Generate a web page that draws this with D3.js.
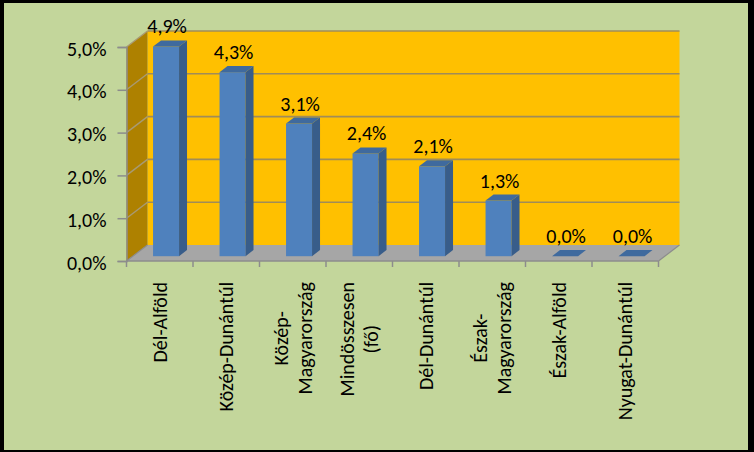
<!DOCTYPE html>
<html><head><meta charset="utf-8">
<script src="https://cdn.jsdelivr.net/npm/d3@7"></script>
<style>
html,body{margin:0;padding:0;background:#000;}
svg{display:block;}
text{font-family:Carlito,Calibri,Lato,sans-serif;fill:#000;}
</style></head>
<body>
<svg id="c" width="754" height="452"></svg>
<script>
const categories = [
  ["Dél-Alföld"],
  ["Közép-Dunántúl"],
  ["Közép-", "Magyarország"],
  ["Mindösszesen", "(fő)"],
  ["Dél-Dunántúl"],
  ["Észak-", "Magyarország"],
  ["Észak-Alföld"],
  ["Nyugat-Dunántúl"]
];
const values = [0.049, 0.043, 0.031, 0.024, 0.021, 0.013, 0.000, 0.000];
const yTicks = [0, 0.01, 0.02, 0.03, 0.04, 0.05];

const svg = d3.select("#c");
const loc = d3.formatLocale({decimal: ",", thousands: " ", grouping: [3], currency: ["", " Ft"]});
const fmt = loc.format(".1%");

// frame
svg.append("rect").attr("x",0).attr("y",0).attr("width",754).attr("height",452).attr("fill","#000");
svg.append("rect").attr("x",4).attr("y",3).attr("width",744).attr("height",447).attr("fill","#C3D69B");

const keys = categories.map(d => d.join(" "));
const x = d3.scaleBand().domain(keys).range([126.5, 658.5]).padding(0);
const y = d3.scaleLinear().domain([0, 0.05]).range([261, 47]);
const DX = 21, DY = -16;           // full depth of the 3D box
const f1 = 0.3, f2 = 0.68;          // bar front / back depth fractions
const barW = 26;
const FS = 20;

const x0 = x.range()[0], x1 = x.range()[1];
const pt = (px, py) => px + "," + py;

// back wall
svg.append("rect").attr("x", x0 + DX).attr("y", y(0.05) + DY)
  .attr("width", x1 - x0).attr("height", y(0) - y(0.05)).attr("fill", "#FFC000");
// left wall
svg.append("polygon").attr("points", [pt(x0, y(0.05)), pt(x0 + DX, y(0.05) + DY), pt(x0 + DX, y(0) + DY), pt(x0, y(0))].join(" "))
  .attr("fill", "#AE8100");
// floor
svg.append("polygon").attr("points", [pt(x0, y(0)), pt(x1, y(0)), pt(x1 + DX, y(0) + DY), pt(x0 + DX, y(0) + DY)].join(" "))
  .attr("fill", "#A6A6A6");

// gridlines
const grid = svg.append("g");
yTicks.forEach(v => {
  if (v > 0) {
    grid.append("line").attr("x1", x0 + DX).attr("x2", x1 + DX).attr("y1", y(v) + DY).attr("y2", y(v) + DY)
      .attr("stroke", "#A08C58").attr("stroke-width", 1.6);
    grid.append("line").attr("x1", x0).attr("x2", x0 + DX).attr("y1", y(v)).attr("y2", y(v) + DY)
      .attr("stroke", "#A89A74").attr("stroke-width", 1.4);
  }
});
// floor edges
svg.append("line").attr("x1", x1).attr("y1", y(0)).attr("x2", x1 + DX).attr("y2", y(0) + DY).attr("stroke", "#8C8C8C").attr("stroke-width", 1.2);
svg.append("line").attr("x1", x0).attr("y1", y(0)).attr("x2", x0 + DX).attr("y2", y(0) + DY).attr("stroke", "#8C8C8C").attr("stroke-width", 1.2);

// y axis
const yAxis = d3.axisLeft(y).tickValues(yTicks).tickFormat(fmt).tickSize(9).tickPadding(11);
const ga = svg.append("g").attr("transform", `translate(${x0},0)`).call(yAxis);
ga.select(".domain").attr("stroke", "#8C8C8C").attr("stroke-width", 1.5);
ga.selectAll(".tick line").attr("stroke", "#8C8C8C").attr("stroke-width", 1.5);
ga.selectAll(".tick text").attr("font-size", FS).attr("font-family", "Carlito,Calibri,Lato,sans-serif").attr("fill", "#000").attr("dy", "0.4em");

// x axis line + ticks at band boundaries
const gx = svg.append("g");
gx.append("line").attr("x1", x0).attr("x2", x1).attr("y1", y(0)).attr("y2", y(0)).attr("stroke", "#8C8C8C").attr("stroke-width", 1.5);
keys.concat([null]).forEach(k => {
  const tx = k === null ? x1 : x(k);
  gx.append("line").attr("x1", tx).attr("x2", tx).attr("y1", y(0)).attr("y2", y(0) + 6).attr("stroke", "#8C8C8C").attr("stroke-width", 1.5);
});

// bars
const bars = svg.append("g");
const sdx = DX * (f2 - f1), sdy = DY * (f2 - f1);
keys.forEach((k, i) => {
  const v = values[i];
  const bx = x(k) + x.bandwidth() / 2 - barW / 2 + DX * f1;
  const yb = y(0) + DY * f1;
  const yt = y(v) + DY * f1;
  if (yb - yt > 0.5) {
    bars.append("rect").attr("x", bx).attr("y", yt).attr("width", barW).attr("height", yb - yt).attr("fill", "#4F81BD");
    bars.append("polygon").attr("points", [pt(bx + barW, yt), pt(bx + barW + sdx, yt + sdy), pt(bx + barW + sdx, yb + sdy), pt(bx + barW, yb)].join(" "))
      .attr("fill", "#385D8A");
  }
  bars.append("polygon").attr("points", [pt(bx, yt), pt(bx + sdx, yt + sdy), pt(bx + barW + sdx, yt + sdy), pt(bx + barW, yt)].join(" "))
    .attr("fill", "#3F6A9E");
  svg.append("text").attr("x", bx + barW / 2 + 1).attr("y", yt - 13).attr("text-anchor", "middle")
    .attr("font-size", FS).text(fmt(v));
});

// category labels (rotated)
const labTop = 282, lineGap = 24;
keys.forEach((k, i) => {
  const lines = categories[i];
  const cx = x(k) + x.bandwidth() / 2;
  const n = lines.length;
  const g = svg.append("g");
  const texts = lines.map((ln, j) => {
    const lx = cx + (j - (n - 1) / 2) * lineGap;
    return g.append("text").attr("font-size", FS).attr("dy", "0.35em").text(ln).datum(lx);
  });
  const maxLen = d3.max(texts, t => t.node().getComputedTextLength());
  texts.forEach(t => {
    const lx = t.datum();
    if (n === 1) {
      t.attr("text-anchor", "end").attr("transform", `translate(${lx},${labTop}) rotate(-90)`);
    } else {
      t.attr("text-anchor", "middle").attr("transform", `translate(${lx},${labTop + maxLen / 2}) rotate(-90)`);
    }
  });
});
</script>
</body></html>
